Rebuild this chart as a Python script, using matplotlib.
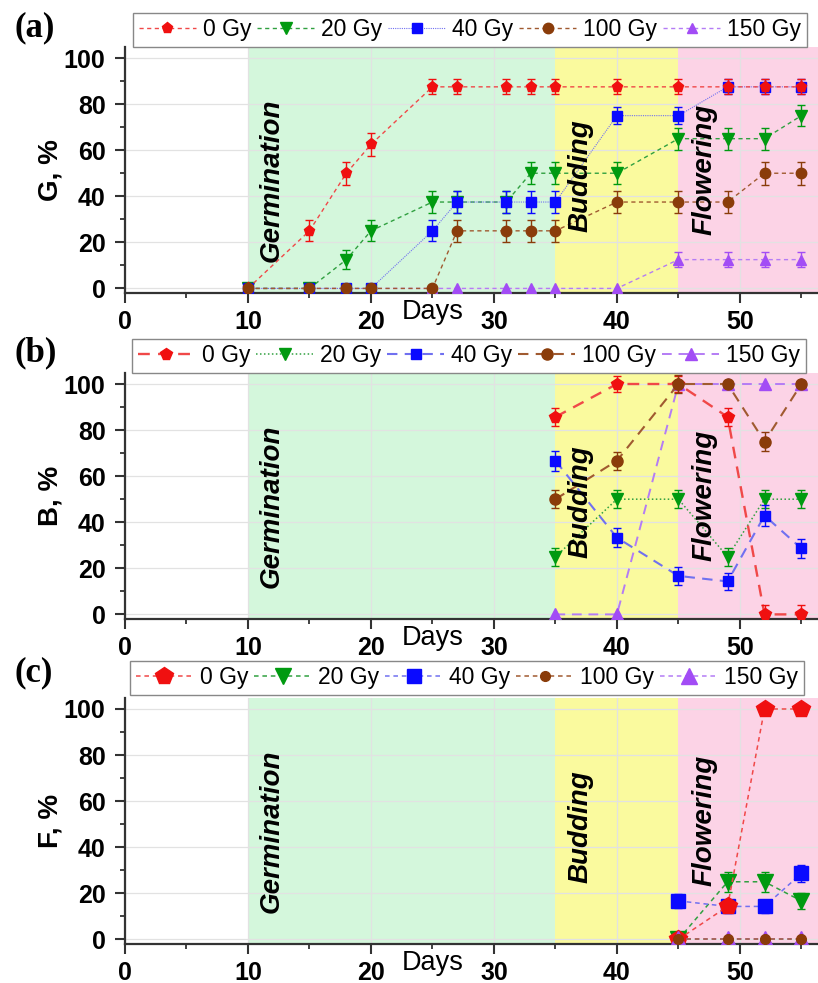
import numpy as np
import matplotlib
matplotlib.use("Agg")
import matplotlib.pyplot as plt
import matplotlib.transforms as mtrans
from matplotlib.ticker import MultipleLocator

plt.rcParams['font.family'] = ['Liberation Sans', 'DejaVu Sans']

# ---- data ----
doses = ['0 Gy', '20 Gy', '40 Gy', '100 Gy', '150 Gy']

# (a) germination G, %
days_a = [10, 15, 18, 20, 25, 27, 31, 33, 35, 40, 45, 49, 52, 55]
g0 = [0, 25, 50, 62.5, 87.5, 87.5, 87.5, 87.5, 87.5, 87.5, 87.5, 87.5, 87.5, 87.5]
g20 = [0, 0, 12.5, 25, 37.5, 37.5, 37.5, 50, 50, 50, 65, 65, 65, 75]
g40 = [0, 0, 0, 0, 25, 37.5, 37.5, 37.5, 37.5, 75, 75, 87.5, 87.5, 87.5]
g100 = [0, 0, 0, 0, 0, 25, 25, 25, 25, 37.5, 37.5, 37.5, 50, 50]
g150 = [0, 0, 0, 0, 0, 0, 0, 0, 0, 0, 12.5, 12.5, 12.5, 12.5]
g0_err = [0, 4.5, 5, 5, 3.3, 3.3, 3.3, 3.3, 3.3, 3.3, 3.3, 3.3, 3.3, 3.3]
g20_err = [0, 0, 4, 4.5, 4.8, 4.8, 4.8, 4.8, 4.8, 4.8, 4.8, 4.8, 4.8, 4.5]
g40_err = [0, 0, 0, 0, 4.5, 4.7, 4.7, 4.7, 4.7, 3.6, 3.6, 3.3, 3.3, 3.3]
g100_err = [0, 0, 0, 0, 0, 4.7, 4.7, 4.7, 4.7, 4.9, 4.9, 4.9, 5, 5]
g150_err = [0, 0, 0, 0, 0, 0, 0, 0, 0, 0, 3.2, 3.2, 3.2, 3.2]

# (b) budding B, %
days_b = [35, 40, 45, 49, 52, 55]
b0 = [85.7, 100, 100, 85.7, 0, 0]
b20 = [25, 50, 50, 25, 50, 50]
b40 = [66.7, 33.3, 16.7, 14.3, 42.9, 28.6]
b100 = [50, 66.7, 100, 100, 75, 100]
b150 = [0, 0, 100, 100, 100, 100]
b0_err = [4, 3.6, 3.6, 4, 4, 4]
b20_err = [4, 4, 4, 4, 4, 4]
b40_err = [4.3, 4, 4, 3.5, 4.5, 4]
b100_err = [4, 4, 4, 0, 4, 0]
b150_err = [0, 0, 0, 0, 0, 0]

# (c) flowering F, %
days_c = [45, 49, 52, 55]
f0 = [0, 14.3, 100, 100]
f20 = [0, 25, 25, 16.7]
f40 = [16.7, 14.3, 14.3, 28.6]
f100 = [0, 0, 0, 0]
f150 = [0, 0, 0, 0]
f0_err = [0, 2.5, 0, 0]
f20_err = [0, 4.3, 4.3, 3.5]
f40_err = [3, 3, 3, 3.5]
f100_err = [0, 0, 0, 0]
f150_err = [0, 0, 0, 0]

phases = ['Germination', 'Budding', 'Flowering']
phase_x = [11.9, 37.0, 47.1]
phase_y = [47, 49, 51.5]

colors = ['#f01010', '#009a10', '#0a0aff', '#8a3c0a', '#a24cf5']
line_colors = ['#f04848', '#30a040', '#7070f0', '#a05a30', '#b47cf5']
markers = ['p', 'v', 's', 'o', '^']

fig = plt.figure(figsize=(8.18, 9.83), dpi=100)
left = 125 / 818
width = 1 - left


def draw_panel(bottom, days, series, errs, ylab, tag, tag_y, leg_anchor, styles, msizes, lws, order):
   ax = fig.add_axes([left, bottom, width, 0.2503])
   ax.set_xlim(0, 56.35)
   ax.set_ylim(-2, 104.8)
   ax.axvspan(10, 35, color='#d4f7dc', zorder=0, lw=0)
   ax.axvspan(35, 45, color='#fafa9e', zorder=0, lw=0)
   ax.axvspan(45, 60, color='#fcd3e6', zorder=0, lw=0)
   ax.set_axisbelow('line')
   ax.grid(True, which='major', color='#e2e2e2', lw=0.9)

   handles = []
   for i in range(5):
      z = 3 + order[i]
      h, = ax.plot(days, series[i], color=line_colors[i], lw=lws[i], dashes=styles[i],
                   marker=markers[i], ms=msizes[i], mfc=colors[i], mec=colors[i], zorder=z)
      e = np.array(errs[i], dtype=float)
      m = e > 0
      if m.any():
         ax.errorbar(np.array(days)[m], np.array(series[i])[m], yerr=e[m], fmt='none',
                     ecolor=colors[i], elinewidth=1, capsize=3, capthick=1, zorder=z)
      handles.append(h)

   for name, px, py in zip(phases, phase_x, phase_y):
      ax.text(px, py, name, rotation=90, ha='center', va='center', fontsize=20,
              fontweight='bold', fontstyle='italic', zorder=10)

   ax.xaxis.set_major_locator(MultipleLocator(10))
   ax.xaxis.set_minor_locator(MultipleLocator(5))
   ax.yaxis.set_major_locator(MultipleLocator(20))
   ax.yaxis.set_minor_locator(MultipleLocator(10))
   ax.set_xticks([0, 10, 20, 30, 40, 50])
   ax.tick_params(which='major', direction='out', length=7, width=1.5, color='#333333',
                  labelsize=18, pad=5)
   ax.tick_params(which='minor', direction='out', length=3.5, width=1.3, color='#333333')
   ax.tick_params(axis='y', which='major', pad=7)
   for lbl in ax.get_xticklabels() + ax.get_yticklabels():
      lbl.set_fontweight('bold')
   for s in ['top', 'right']:
      ax.spines[s].set_visible(False)
   for s in ['left', 'bottom']:
      ax.spines[s].set_color('#333333')
      ax.spines[s].set_linewidth(1.6)

   ax.set_ylabel(ylab, fontsize=20, fontweight='bold')
   ax.yaxis.set_label_coords(-0.089, 0.5)
   trans = mtrans.blended_transform_factory(ax.transData, ax.transAxes)
   ax.text(25, -0.077, 'Days', transform=trans, ha='center', va='center', fontsize=19.5)

   leg = ax.legend(handles, doses, loc='lower left', bbox_to_anchor=leg_anchor,
                   bbox_transform=fig.transFigure, ncol=5, fontsize=16.5, handlelength=2.5,
                   handletextpad=0.3, columnspacing=0.25, borderpad=0.25, borderaxespad=0,
                   frameon=True, fancybox=False, edgecolor='#888888', framealpha=1)
   leg.get_frame().set_linewidth(1.0)
   fig.text(15 / 818, tag_y, tag, family=['Liberation Serif', 'DejaVu Serif'],
            fontweight='bold', fontsize=25, va='center', ha='left')
   return ax


# (a) - thin dotted blue line for 40 Gy
draw_panel(0.7019, days_a, [g0, g20, g40, g100, g150],
           [g0_err, g20_err, g40_err, g100_err, g150_err],
           'G, %', '(a)', 0.9715, (133 / 818, 0.9522),
           [(3, 2.5), (3, 2.5), (1, 1), (3, 2.5), (3, 2.5)],
           [8, 8, 6.5, 7.5, 7], [1.0, 1.0, 0.8, 1.0, 1.0], [3, 1, 2, 4, 0])

# (b)
draw_panel(0.3703, days_b, [b0, b20, b40, b100, b150],
           [b0_err, b20_err, b40_err, b100_err, b150_err],
           'B, %', '(b)', 0.6409, (132 / 818, 0.6205),
           [(5, 3.5), (1, 1.6), (5, 3.5), (5, 3.5), (5, 3.5)],
           [8.5, 8, 6.5, 8, 8], [1.7, 1.1, 1.5, 1.5, 1.4], [3, 1, 2, 4, 0])

# (c) - purple triangles sit over the red/green zeros at day 45
draw_panel(0.0397, days_c, [f0, f20, f40, f100, f150],
           [f0_err, f20_err, f40_err, f100_err, f150_err],
           'F, %', '(c)', 0.3154, (130 / 818, 0.293),
           [(3, 2.5), (3, 2.5), (3, 2.5), (3, 2.5), (3, 2.5)],
           [13, 12, 10, 7, 12], [1.1, 1.1, 1.1, 1.1, 1.1], [3, 1, 2, 5, 4])

fig.savefig('out.png', dpi=100)
